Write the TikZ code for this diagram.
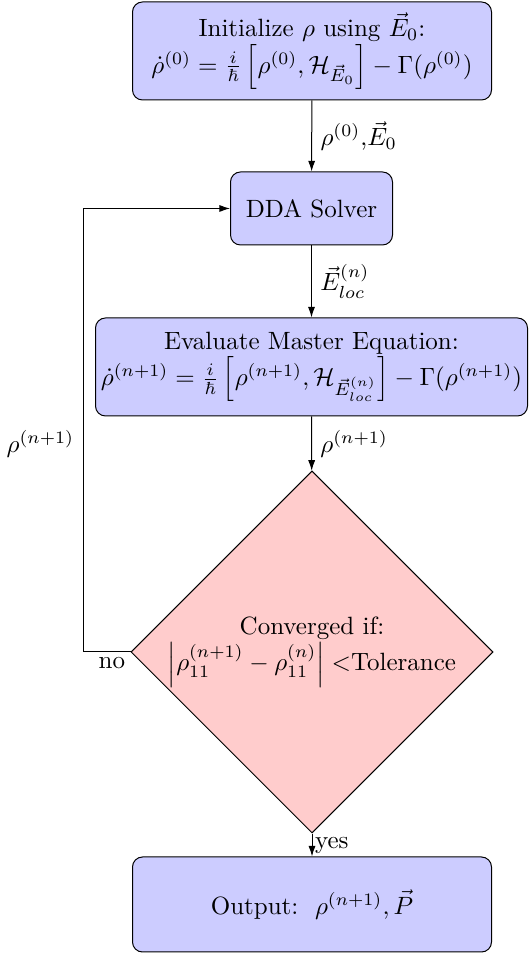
\documentclass[tikz,border=0pt]{standalone}
\usepackage{amsmath,amssymb}
\usepackage{xcolor}
\usepackage{tikz}
\usetikzlibrary{calc,arrows.meta,positioning,shapes.geometric}
\definecolor{blkc}{HTML}{CCCCFF}
\definecolor{decc}{HTML}{FFCCCC}
\tikzset{
  ar/.style={-{Latex[length=1.5mm,width=1mm]},thin},
  blk/.style={draw,rounded corners=4pt,fill=blkc,align=center,inner sep=2pt},
  dec/.style={diamond,draw,fill=decc,align=center,aspect=1,inner sep=0pt,minimum size=144.8pt}
}
\begin{document}
\begin{tikzpicture}
\useasboundingbox (0,0) rectangle (212pt,381.6pt);
\node[blk,minimum width=143.6pt,minimum height=39.2pt] (init) at (124.8pt,361.2pt)
  {Initialize $\rho$ using $\vec{E}_0$:\\
   $\dot{\rho}^{(0)}=\frac{i}{\hbar}\left[\rho^{(0)},\mathcal{H}_{\vec{E}_0}\right]-\Gamma(\rho^{(0)})$};
\node[blk,minimum width=64.8pt,minimum height=29.2pt] (dda) at (124.6pt,298.2pt) {DDA Solver};
\node[blk,minimum width=172.8pt,minimum height=39.2pt] (eval) at (124.6pt,234.8pt)
  {Evaluate Master Equation:\\
   $\dot{\rho}^{(n+1)}=\frac{i}{\hbar}\left[\rho^{(n+1)},\mathcal{H}_{\vec{E}_{loc}^{(n)}}\right]-\Gamma(\rho^{(n+1)})$};
\node[dec] (conv) at (124.8pt,120.8pt)
  {Converged if:\\
   $\left|\rho_{11}^{(n+1)}-\rho_{11}^{(n)}\right|<$Tolerance};
\node[blk,minimum width=143.6pt,minimum height=38pt] (out) at (124.8pt,19.8pt)
  {Output:\ \ $\rho^{(n+1)},\vec{P}$};
\coordinate (back) at (33.2pt,0);
% connectors
\draw[ar] (init) -- node[right] {$\rho^{(0)}$,$\vec{E}_0$} (dda);
\draw[ar] (dda) -- node[right] {$\vec{E}_{loc}^{(n)}$} (eval);
\draw[ar] (eval) -- node[right] {$\rho^{(n+1)}$} (conv);
\draw[ar] (conv) -- node[right,inner sep=1pt] {yes} (out);
\draw[ar] (conv.west) node[below left,inner sep=2pt] {no} -- (conv.west -| back)
  |- node[pos=0.235,left] {$\rho^{(n+1)}$} (dda.west);
\end{tikzpicture}
\end{document}
